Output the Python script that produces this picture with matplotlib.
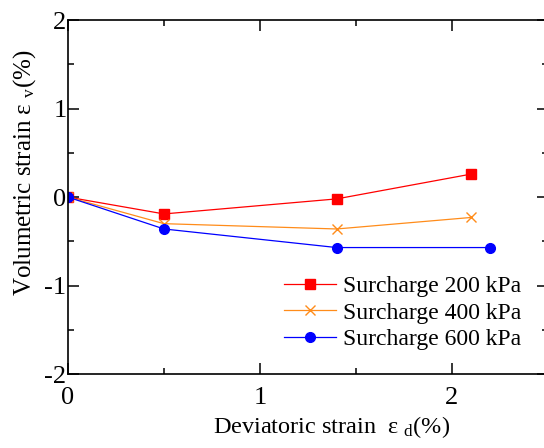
import matplotlib
matplotlib.use("Agg")
import matplotlib.pyplot as plt
from matplotlib.ticker import MultipleLocator

plt.rcParams['font.family'] = ['Liberation Serif', 'DejaVu Serif']
plt.rcParams['mathtext.fontset'] = 'custom'
plt.rcParams['mathtext.rm'] = 'Liberation Serif'
plt.rcParams['mathtext.it'] = 'Liberation Serif:italic'

# Deviatoric strain (%) and volumetric strain (%) per surcharge level
x_200 = [0.0, 0.5, 1.4, 2.1]
y_200 = [0.0, -0.19, -0.02, 0.26]
x_400 = [0.0, 0.5, 1.4, 2.1]
y_400 = [0.0, -0.30, -0.36, -0.23]
x_600 = [0.0, 0.5, 1.4, 2.2]
y_600 = [0.0, -0.36, -0.57, -0.57]

labels = ["Surcharge 200 kPa", "Surcharge 400 kPa", "Surcharge 600 kPa"]
x_ticks = [0, 1, 2]
y_ticks = [-2, -1, 0, 1, 2]

fig = plt.figure(figsize=(5.44, 4.48), dpi=100)
ax = fig.add_axes([0.125, 0.165, 0.882, 0.79])

ax.plot(x_200, y_200, color='#ff0000', lw=0.9, marker='s', ms=6.5, label=labels[0])
ax.plot(x_400, y_400, color='#ff8c1a', lw=0.9, marker='x', ms=7.5, mew=1.0, label=labels[1])
ax.plot(x_600, y_600, color='#0000ff', lw=0.9, marker='o', ms=7, label=labels[2])

ax.set_xlim(0, 2.5)
ax.set_ylim(-2, 2)
ax.set_xticks(x_ticks)
ax.set_yticks(y_ticks)
ax.set_yticklabels([str(t) for t in y_ticks])
ax.xaxis.set_minor_locator(MultipleLocator(0.5))
ax.yaxis.set_minor_locator(MultipleLocator(0.5))
ax.tick_params(which='both', direction='in', top=True, right=True, width=1.1)
ax.tick_params(which='major', length=8, labelsize=19)
ax.tick_params(which='minor', length=4.5)
ax.tick_params(axis='y', which='major', pad=1)
ax.tick_params(axis='x', which='major', pad=9)
for s in ax.spines.values():
    s.set_linewidth(1.2)

fig.text(0.61, 0.047, "Deviatoric strain  \u03b5 $_{\\mathrm{d}}$(%)", fontsize=17.5,
         ha='center', va='center')
fig.text(0.045, 0.615, "Volumetric strain \u03b5 $_{\\mathrm{v}}$(%)", fontsize=18,
         ha='center', va='center', rotation=90)

ax.legend(loc='lower right', bbox_to_anchor=(0.969, 0.035), frameon=False, fontsize=17,
          handlelength=2.2, handletextpad=0.3, labelspacing=0.2, borderpad=0)

fig.savefig("out.png", dpi=100)
